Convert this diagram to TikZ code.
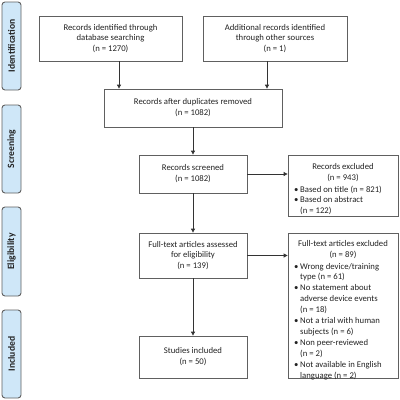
\documentclass[tikz,border=0pt]{standalone}
\usepackage{fontspec}
\setmainfont{Carlito}
\usetikzlibrary{arrows.meta}
\setlength\parindent{0pt}
\definecolor{boxline}{HTML}{606060}
\definecolor{sidefill}{HTML}{CFE7F8}
\definecolor{txt}{HTML}{222222}
\newcommand\bitem[1]{\par\noindent\hangindent=6pt\hangafter=1\makebox[6pt][l]{•}#1}
\newcommand\blist[1]{\parbox[t]{102pt}{\raggedright\parindent=0pt #1}}
\begin{document}
\begin{tikzpicture}[x=1pt,y=-1pt,
  every node/.style={font=\fontsize{8.7}{10.9}\selectfont, text=txt},
  box/.style={draw=boxline, line width=0.8pt, align=center, inner sep=2pt},
  hdr/.style={align=center, inner sep=0pt},
  lst/.style={inner sep=0pt, anchor=base west},
  side/.style={draw=boxline, fill=sidefill, line width=0.9pt, rounded corners=3pt, rotate=90, minimum height=19pt, font=\fontsize{9.6}{11}\selectfont\bfseries},
  arr/.style={draw=black!80, line width=0.8pt, -{Triangle[length=4pt,width=4pt]}}]
\useasboundingbox (0,0) rectangle (400,400);
% side labels
\node[side, minimum width=88pt] (sid) at (11.5,46) {Identification};
\node[side, minimum width=88pt] (sscr) at (11.5,149) {Screening};
\node[side, minimum width=89pt] (selig) at (11.5,251.5) {Eligibility};
\node[side, minimum width=88pt] (sinc) at (11.5,354) {Included};
% boxes
\node[box, minimum width=143pt, minimum height=45pt] (b1) at (110.5,38.5) {Records identified through\\database searching\\(n = 1270)};
\node[box, minimum width=144pt, minimum height=45pt] (b2) at (275,38.5) {Additional records identified\\through other sources\\(n = 1)};
\node[box, minimum width=178pt, minimum height=38pt] (dup) at (193,108) {Records after duplicates removed\\(n = 1082)};
\node[box, minimum width=108pt, minimum height=38pt] (scr) at (193,174) {Records screened\\(n = 1082)};
\node[box, minimum width=110pt, minimum height=61pt] (ex1) at (343,185.5) {};
\node[hdr] (ex1h) at (343,172.5) {Records excluded\\(n = 943)};
\node[lst] (ex1l) at (294,192) {\blist{%
  \bitem{Based on title (n = 821)}%
  \bitem{Based on abstract\newline(n = 122)}}};
\node[box, minimum width=108pt, minimum height=45pt] (ft) at (193,255.5) {Full-text articles assessed\\for eligibility\\(n = 139)};
\node[box, minimum width=110pt, minimum height=145pt] (ex2) at (343,305.5) {};
\node[hdr] (ex2h) at (343,249.5) {Full-text articles excluded\\(n = 89)};
\node[lst] (ex2l) at (294,269) {\blist{%
  \bitem{Wrong device/training\newline type (n = 61)}%
  \bitem{No statement about\newline adverse device events\newline (n = 18)}%
  \bitem{Not a trial with human\newline subjects (n = 6)}%
  \bitem{Non peer-reviewed\newline(n = 2)}%
  \bitem{Not available in English\newline language (n = 2)}}};
\node[box, minimum width=108pt, minimum height=42pt] (inc) at (193,357) {Studies included\\(n = 50)};
% arrows
\draw[arr] ([xshift=8.5pt]b1.south) -- ([xshift=8.5pt]b1.south |- dup.north);
\draw[arr] ([xshift=-8pt]b2.south) -- ([xshift=-8pt]b2.south |- dup.north);
\draw[arr] (dup.south) -- (scr.north);
\draw[arr] (scr.east) -- (scr.east -| ex1.west);
\draw[arr] (scr.south) -- (ft.north);
\draw[arr] (ft.east) -- (ft.east -| ex2.west);
\draw[arr] (ft.south) -- (inc.north);
\end{tikzpicture}
\end{document}
